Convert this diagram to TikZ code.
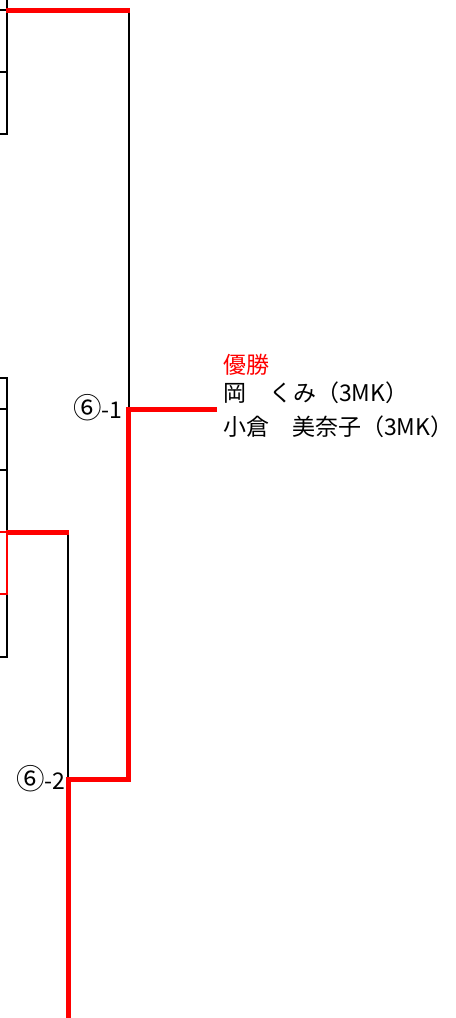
\documentclass[tikz,border=0pt]{standalone}
\usepackage{fontspec}
\setmainfont{Noto Sans CJK JP}
\newcommand\circnum[1]{{\fontsize{28.5bp}{30bp}\selectfont #1}}
\begin{document}
\begin{tikzpicture}[x=1bp,y=-1bp,
  lose/.style={black,line width=2bp},
  win/.style={red,line width=5bp},
  thinwin/.style={red,line width=1.5bp},
  roundlbl/.style={font=\fontsize{23bp}{28bp}\selectfont,inner sep=0pt,anchor=east},
  player/.style={font=\fontsize{23bp}{28bp}\selectfont,inner sep=0pt,anchor=base west}]
\useasboundingbox (0,0) rectangle (456,1018);
\coordinate (s1) at (128.8,10);
\coordinate (s1l) at (6,10);
\coordinate (s2) at (68.3,532);
\coordinate (s2l) at (6,532);
\coordinate (f1) at (128.8,409);
\coordinate (f2) at (68.3,779);
\coordinate (champ) at (217,409);
\coordinate (bottom) at (68.3,1019);
\draw[lose] (0,10) -- (7,10);
\draw[lose] (0,72) -- (7,72);
\draw[lose] (0,134) -- (7,134) -- (7,-1);
\draw[lose] (0,378) -- (7,378) -- (7,532);
\draw[lose] (0,409) -- (7,409);
\draw[lose] (0,470) -- (7,470);
\draw[lose] (7,594) -- (7,657) -- (0,657);
\draw[thinwin] (0,532) -- (7,532) -- (7,594) -- (0,594);
\draw[lose] (s1) -- (f1);
\draw[lose] (s2) -- (s2 |- f2);
\draw[win] (s1l) -- ([xshift=1.2bp]s1);
\draw[win] (s2l) -- ([xshift=0.7bp]s2);
\draw[win] (champ) -- (f1) -- (f1 |- f2) -- (f2) -- (bottom);
\node[roundlbl] (l61) at (122.5,408) {\circnum{⑥}-1};
\node[roundlbl] (l62) at (65.5,778.5) {\circnum{⑥}-2};
\node[player,red] (title) at (223,373) {優勝};
\node[player] (p1) at (223,401) {岡　くみ（3MK）};
\node[player] (p2) at (223,435) {小倉　美奈子（3MK）};
\end{tikzpicture}
\end{document}
